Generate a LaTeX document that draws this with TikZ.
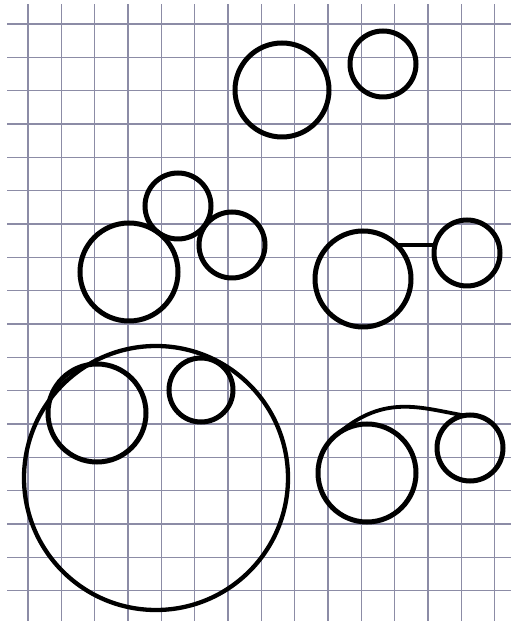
\documentclass[tikz,border=0pt]{standalone}
\usepackage{tikz}
\usetikzlibrary{calc}
\definecolor{gridblue}{RGB}{140,140,166}
\begin{document}
\begin{tikzpicture}[x=1pt,y=1pt,
  ring/.style={draw,circle,line width=5pt,inner sep=0pt,outer sep=0pt},
  gridline/.style={draw=gridblue,line width=1.2pt},
  link/.style={line width=3.8pt,line cap=round}]
\useasboundingbox(0,0)rectangle(511,621);
\fill[white](0,0)rectangle(511,621);
% squared paper
\foreach \i in {0,...,14}{\draw[gridline]({28+33.33*\i},0)--({28+33.33*\i},617);}
\foreach \j in {0,...,17}{\draw[gridline](7,{597-33.33*\j})--(511,{597-33.33*\j});}
% top pair
\node[ring,minimum size=94pt](topbig)at(282,531){};\node[ring,minimum size=66pt](topsmall)at(383,557){};
% cluster of three
\node[ring,minimum size=98pt](midbig)at(129,349){};\node[ring,minimum size=66pt](midup)at(178,415){};\node[ring,minimum size=66pt](midside)at(232,376){};
% pair with a bar
\node[ring,minimum size=96pt](pairbig)at(363,342){};\node[ring,minimum size=66pt](pairsmall)at(467,368){};
\draw[link](pairbig.45)--(pairsmall.166);
% big one holding two
\node[ring,line width=4.3pt,minimum size=264pt](outer)at(156,143){};
\node[ring,minimum size=98pt](innerbig)at(97,208){};\node[ring,minimum size=64pt](innersmall)at(201,231){};
% pair with a loop
\node[ring,minimum size=98pt](loopbig)at(367,148){};\node[ring,minimum size=66pt](loopsmall)at(470,173){};
\draw[link](loopbig.125)..controls+(40:60)and+(170:45)..(loopsmall.100);
\end{tikzpicture}
\end{document}
